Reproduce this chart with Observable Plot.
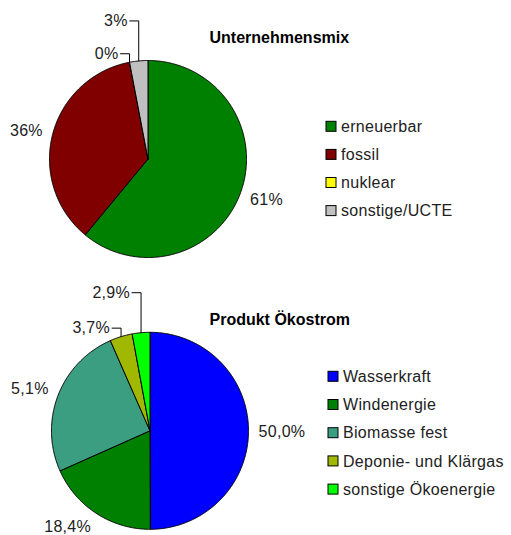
<!DOCTYPE html>
<html><head><meta charset="utf-8">
<script src="https://cdn.jsdelivr.net/npm/d3@7"></script>
<script src="https://cdn.jsdelivr.net/npm/@observablehq/plot@0.6"></script>
<style>
html,body{margin:0;padding:0;background:#fff;}
#chart svg text.lbl, #chart svg g.lbl text{letter-spacing:0.3px;}
</style>
</head><body><div id="chart"></div>
<script>
// --- data ---
const mixTitle = "Unternehmensmix";
const mixCategories = ["erneuerbar", "fossil", "nuklear", "sonstige/UCTE"];
const mixValues = [61, 36, 0, 3];
const mixLabels = ["61%", "36%", "0%", "3%"];
const mixColors = ["#008000", "#800000", "#ffff00", "#c0c0c0"];

const oekoTitle = "Produkt Ökostrom";
const oekoCategories = ["Wasserkraft", "Windenergie", "Biomasse fest", "Deponie- und Klärgas", "sonstige Ökoenergie"];
const oekoValues = [50.0, 18.4, 25.1, 3.7, 2.9];
const oekoLabels = ["50,0%", "18,4%", "5,1%", "3,7%", "2,9%"];
const oekoColors = ["#0000ff", "#008000", "#3c9e80", "#a0b800", "#00ff00"];

// --- layout ---
const W = 511, H = 535;
const layouts = [
  {cx: 147.5, cy: 158.5, r: 98.5, titleX: 209, titleY: 37, legX: 326, legY: 126.3, step: 28.1},
  {cx: 149.5, cy: 430.3, r: 98.5, titleX: 209, titleY: 319.5, legX: 328, legY: 376.3, step: 28.2}
];

function pieData(title, cats, vals, labs, L, pi) {
  const rows = cats.map((c, i) => ({cat: c, value: vals[i], label: labs[i]}));
  const arcs = d3.pie().sort(null).value(d => d.value)(rows);
  const P = (a, R) => [L.cx + R * Math.sin(a), L.cy - R * Math.cos(a)];
  const pts = [], labels = [], leaders = [];
  const small = arcs.filter(a => a.data.value < 5).map(a => a.index);
  arcs.forEach(a => {
    const key = pi + "-" + a.index;
    const span = a.endAngle - a.startAngle;
    const n = Math.max(1, Math.ceil(span / (Math.PI / 360)));
    pts.push({key, cat: a.data.cat, x: L.cx, y: L.cy});
    for (let k = 0; k <= n; k++) {
      const [x, y] = P(a.startAngle + span * k / n, L.r);
      pts.push({key, cat: a.data.cat, x, y});
    }
    pts.push({key, cat: a.data.cat, x: L.cx, y: L.cy});
    const mid = (a.startAngle + a.endAngle) / 2;
    if (a.data.value < 5) {
      const [ax, ay] = P(mid, L.r);
      const isLast = a.index === small[small.length - 1];
      const ly = ay - (isLast ? 40 : 8.5);
      labels.push({x: ax - 11, y: ly, text: a.data.label, anchor: "end"});
      leaders.push({key, x: ax - 9, y: ly}, {key, x: ax, y: ly}, {key, x: ax, y: ay});
    } else {
      const [px, py] = P(mid, L.r + 10);
      // keep the label inside the picture
      const ty = Math.min(py - Math.cos(mid) * 10 + 1, H - 9);
      labels.push({x: px, y: ty, text: a.data.label,
                   anchor: Math.sin(mid) >= 0 ? "start" : "end"});
    }
  });
  const legend = cats.map((c, i) => ({cat: c, x: L.legX, y: L.legY + i * L.step}));
  const titleRow = {text: title, x: L.titleX, y: L.titleY};
  return {pts, labels, leaders, legend, titleRow};
}

const A = pieData(mixTitle, mixCategories, mixValues, mixLabels, layouts[0], 0);
const B = pieData(oekoTitle, oekoCategories, oekoValues, oekoLabels, layouts[1], 1);
const pts = [...A.pts, ...B.pts];
const labels = [...A.labels, ...B.labels];
const leaders = [...A.leaders, ...B.leaders];
const legend = [...A.legend, ...B.legend];
const titles = [A.titleRow, B.titleRow];

const chart = Plot.plot({
  width: W, height: H, margin: 0,
  x: {domain: [0, W], range: [0, W], axis: null},
  y: {domain: [0, H], range: [0, H], axis: null},
  color: {domain: [...mixCategories, ...oekoCategories], range: [...mixColors, ...oekoColors]},
  style: {fontFamily: "'Liberation Sans', Arial, sans-serif", background: "#fff", overflow: "hidden"},
  marks: [
    Plot.line(pts, {x: "x", y: "y", z: "key", fill: "cat", stroke: "#000", strokeWidth: 1, curve: "linear"}),
    Plot.line(leaders, {x: "x", y: "y", z: "key", stroke: "#000", strokeWidth: 1}),
    Plot.text(labels.filter(d => d.anchor === "start"), {x: "x", y: "y", text: "text", textAnchor: "start", fontSize: 16, fill: "#222", className: "lbl"}),
    Plot.text(labels.filter(d => d.anchor === "end"), {x: "x", y: "y", text: "text", textAnchor: "end", fontSize: 16, fill: "#222", className: "lbl"}),
    Plot.rect(legend, {x1: d => d.x, x2: d => d.x + 10, y1: d => d.y - 5, y2: d => d.y + 5, fill: "cat", stroke: "#000", strokeWidth: 1}),
    Plot.text(legend, {x: d => d.x + 14.5, y: "y", text: "cat", textAnchor: "start", fontSize: 16, fill: "#222", className: "lbl"}),
    Plot.text(titles, {x: "x", y: "y", text: "text", textAnchor: "start", fontSize: 16, fontWeight: "bold", fill: "#000"})
  ]
});
document.getElementById("chart").appendChild(chart);
</script>
</body></html>
